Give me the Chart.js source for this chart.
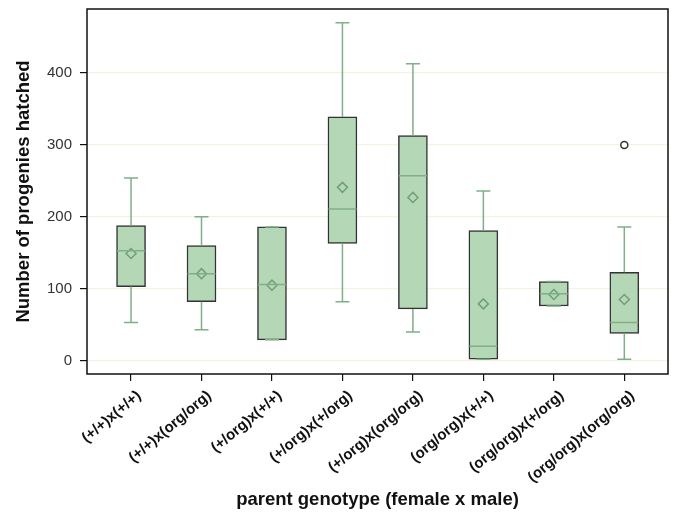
<!DOCTYPE html>
<html>
<head>
<meta charset="utf-8">
<script src="https://cdn.jsdelivr.net/npm/chart.js@4/dist/chart.umd.min.js"></script>
<style>
  body { margin: 0; background: #fff; }
  #wrap { width: 675px; height: 517px; }
</style>
</head>
<body>
<div id="wrap"><canvas id="box"></canvas></div>
<script>
// --- DATA ---
const genotypes = ['(+/+)x(+/+)', '(+/+)x(org/org)', '(+/org)x(+/+)', '(+/org)x(+/org)',
                   '(+/org)x(org/org)', '(org/org)x(+/+)', '(org/org)x(+/org)', '(org/org)x(org/org)'];
const whiskerLow  = [53, 43, 29, 82, 40, 2, 76, 2];
const quart1      = [103, 82, 29, 163, 72, 2, 76, 38];
const medians     = [153, 121, 106, 211, 257, 20, 93, 53];
const quart3      = [188, 160, 186, 339, 313, 181, 110, 123];
const whiskerHigh = [254, 200, 186, 470, 413, 236, 110, 186];
const means       = [149, 121, 105, 241, 227, 79, 92, 85];
const outliers    = [{ x: 7, y: 300 }];
const yTicks = [0, 100, 200, 300, 400];

const GREEN_LINE = '#7fae88';
const BOX_FILL = '#b4d8b6';

// whiskers, caps and medians drawn through the scales
const boxExtras = {
    id: 'boxExtras',
    afterDatasetsDraw(chart) {
        const ctx = chart.ctx;
        const xs = chart.scales.x, ys = chart.scales.y;
        ctx.save();
        genotypes.forEach((g, i) => {
            const cx = xs.getPixelForValue(i);
            const yl = ys.getPixelForValue(whiskerLow[i]);
            const yq1 = ys.getPixelForValue(quart1[i]);
            const yq3 = ys.getPixelForValue(quart3[i]);
            const yh = ys.getPixelForValue(whiskerHigh[i]);
            const ym = ys.getPixelForValue(medians[i]);
            ctx.strokeStyle = GREEN_LINE;
            ctx.lineWidth = 1.5;
            ctx.beginPath();
            if (yh < yq3) { ctx.moveTo(cx, yq3); ctx.lineTo(cx, yh); }
            if (yl > yq1) { ctx.moveTo(cx, yq1); ctx.lineTo(cx, yl); }
            ctx.moveTo(cx - 7, yh); ctx.lineTo(cx + 7, yh);
            ctx.moveTo(cx - 7, yl); ctx.lineTo(cx + 7, yl);
            ctx.moveTo(cx - 14, ym); ctx.lineTo(cx + 14, ym);
            ctx.stroke();
        });
        ctx.restore();
    },
    afterDraw(chart) {
        const a = chart.chartArea, ctx = chart.ctx;
        ctx.save();
        ctx.strokeStyle = '#111';
        ctx.lineWidth = 1.5;
        ctx.strokeRect(a.left, a.top, a.right - a.left, a.bottom - a.top);
        ctx.restore();
    }
};

const ctx = document.getElementById('box').getContext('2d');
new Chart(ctx, {
    type: 'bar',
    data: {
        datasets: [
            {
                type: 'scatter',
                label: 'mean',
                data: means.map((m, i) => ({ x: i, y: m })),
                pointStyle: 'rectRot',
                pointRadius: 5,
                pointBorderWidth: 1.5,
                backgroundColor: 'rgba(0,0,0,0)',
                borderColor: '#6f9f78',
                order: 0
            },
            {
                type: 'scatter',
                label: 'outlier',
                data: outliers,
                pointStyle: 'circle',
                pointRadius: 3.5,
                pointBorderWidth: 1.5,
                backgroundColor: '#fff',
                borderColor: '#333',
                order: 0
            },
            {
                label: 'box',
                data: quart1.map((q, i) => ({ x: i, y: [q, quart3[i]] })),
                backgroundColor: BOX_FILL,
                borderColor: '#333',
                borderWidth: 1.5,
                borderSkipped: false,
                barThickness: 29,
                order: 1
            }
        ]
    },
    options: {
        responsive: true,
        maintainAspectRatio: false,
        animation: false,
        layout: { padding: { top: 9, right: 7, left: 0, bottom: 0 } },
        plugins: { legend: { display: false }, tooltip: { enabled: false } },
        scales: {
            x: {
                type: 'linear',
                min: -0.625,
                max: 7.62,
                offset: false,
                afterBuildTicks: s => { s.ticks = genotypes.map((g, i) => ({ value: i })); },
                afterFit: s => { s.height = 143; s.paddingLeft = 0; s.paddingRight = 0; },
                border: { display: false },
                grid: { offset: false, drawOnChartArea: false, tickColor: '#111', tickLength: 7, lineWidth: 1.2 },
                ticks: {
                    autoSkip: false,
                    minRotation: 40,
                    maxRotation: 40,
                    color: '#111',
                    padding: 6,
                    labelOffset: 8,
                    font: { family: 'Liberation Sans', size: 15, weight: 'bold' },
                    callback: v => genotypes[v]
                },
                title: {
                    display: true,
                    text: 'parent genotype (female x male)',
                    color: '#111',
                    padding: { top: 0, bottom: 6 },
                    font: { family: 'Liberation Sans', size: 18.5, weight: 'bold' }
                }
            },
            y: {
                min: -18.5,
                max: 489,
                afterBuildTicks: s => { s.ticks = yTicks.map(v => ({ value: v })); },
                afterFit: s => { s.width = 87; s.paddingTop = 0; s.paddingBottom = 0; },
                border: { display: false },
                grid: { color: '#f4f3e2', tickColor: '#111', tickLength: 7, lineWidth: 1.2 },
                ticks: {
                    color: '#333',
                    padding: 8,
                    font: { family: 'Liberation Sans', size: 15 }
                },
                title: {
                    display: true,
                    text: 'Number of progenies hatched',
                    color: '#111',
                    padding: { top: 13, bottom: 0 },
                    font: { family: 'Liberation Sans', size: 18.5, weight: 'bold' }
                }
            }
        }
    },
    plugins: [boxExtras]
});
</script>
</body>
</html>
